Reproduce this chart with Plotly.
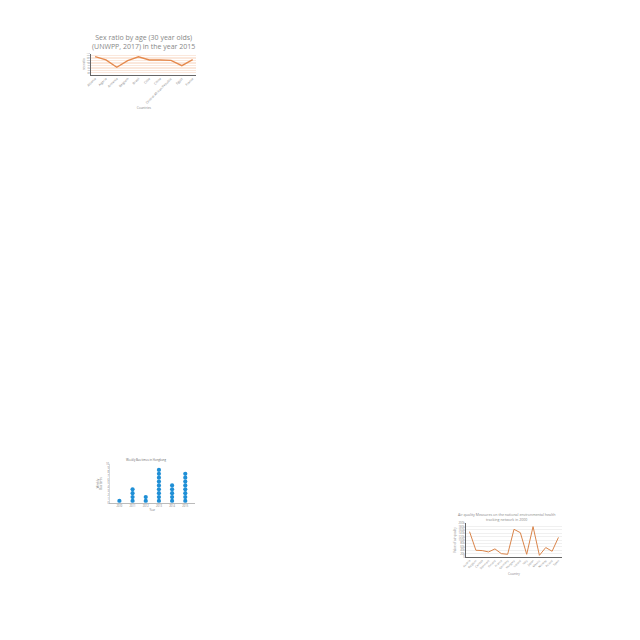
import plotly.graph_objects as go

W = H = 640

# ---- Chart 1 data ----
c1_countries = ["Albania", "Algeria", "Armenia", "Belgium", "Brazil", "Chile", "China",
                "Central African Republic", "Egypt", "France"]
c1_values = [106.4, 102.5, 93.7, 101.7, 106.2, 102.5, 102.5, 102.0, 95.7, 102.9]

# ---- Chart 2 data ----
c2_years = ["2010", "2011", "2012", "2013", "2014", "2015"]
c2_counts = [1, 4, 2, 9, 5, 8]

# ---- Chart 3 data ----
c3_countries = ["Austria", "Belgium", "Canada", "Denmark", "Finland", "France", "Germany",
                "Hungary", "Ireland", "Italy", "Japan", "Mexico", "Norway", "Poland", "Spain"]
c3_values = [150000, 40000, 38000, 30000, 48000, 20000, 16000, 164000, 144000, 16000,
             180000, 10000, 56000, 34000, 116000]

ORANGE = "#e58a4e"
BLUE = "#1f8fd6"
FONT = "Open Sans"


def px(x0, x1):
    return [x0 / W, x1 / W]


def py(y_top, y_bot):
    return [1 - y_bot / H, 1 - y_top / H]


fig = go.Figure()

# Chart 1
fig.add_trace(go.Scatter(x=list(range(len(c1_countries))), y=c1_values, mode="lines",
                         line=dict(color=ORANGE, width=1.4), xaxis="x", yaxis="y",
                         showlegend=False))
# Chart 2: stacked dots
dx, dy = [], []
for i, n in enumerate(c2_counts):
    for k in range(n):
        dx.append(i)
        dy.append(k + 0.5)
fig.add_trace(go.Scatter(x=dx, y=dy, mode="markers",
                         marker=dict(color=BLUE, size=4.2, line=dict(width=0)),
                         xaxis="x2", yaxis="y2", showlegend=False))
# Chart 3
fig.add_trace(go.Scatter(x=list(range(len(c3_countries))), y=c3_values, mode="lines",
                         line=dict(color="#d9844a", width=1), xaxis="x3", yaxis="y3",
                         showlegend=False))

fig.update_layout(
    width=W, height=H, margin=dict(l=0, r=0, t=0, b=0), autosize=False,
    paper_bgcolor="white", plot_bgcolor="white", font=dict(family=FONT),
    xaxis=dict(domain=px(87, 193), range=[-0.35, 9.35], tickmode="array",
               tickvals=list(range(len(c1_countries))), ticktext=c1_countries,
               tickangle=-45, tickfont=dict(size=3.2, color="#888", family=FONT),
               showgrid=False, zeroline=False, showline=True, linecolor="#666",
               linewidth=1, ticks="", anchor="y",
               title=dict(text="Countries", font=dict(size=3.2, color="#888"), standoff=2)),
    yaxis=dict(domain=py(52, 73), range=[85, 110], dtick=2,
               tickfont=dict(size=2, color="#888", family=FONT),
               showgrid=True, gridcolor="#fbe8dc", gridwidth=0.5, zeroline=False,
               showline=True, linecolor="#666", linewidth=1, anchor="x",
               title=dict(text="sex ratio", font=dict(size=3, color="#888"), standoff=1)),
    xaxis2=dict(domain=px(106, 191), range=[-0.7, 5.7], tickmode="array",
                tickvals=list(range(len(c2_years))), ticktext=c2_years,
                tickfont=dict(size=2.6, color="#777", family=FONT),
                showgrid=False, zeroline=False, showline=True, linecolor="#bbb",
                linewidth=1, anchor="y2",
                title=dict(text="Year", font=dict(size=2.8, color="#777"), standoff=1)),
    yaxis2=dict(domain=py(465, 504), range=[0, 10], dtick=1,
                tickfont=dict(size=2.6, color="#777", family=FONT),
                showgrid=False, zeroline=False, showline=True, linecolor="#ddd",
                linewidth=0.5, anchor="x2",
                title=dict(text="Weekly<br>Bus times", font=dict(size=2.8, color="#777"),
                           standoff=3)),
    xaxis3=dict(domain=px(465, 561), range=[-0.5, 14.5], tickmode="array",
                tickvals=list(range(len(c3_countries))), ticktext=c3_countries,
                tickangle=-45, tickfont=dict(size=2.8, color="#888", family=FONT),
                showgrid=False, zeroline=False, showline=True, linecolor="#666",
                linewidth=1, anchor="y3",
                title=dict(text="Country", font=dict(size=3.2, color="#888"), standoff=3)),
    yaxis3=dict(domain=py(524.5, 558.5), range=[0, 200000], dtick=20000,
                tickfont=dict(size=2.8, color="#888", family=FONT),
                showgrid=True, gridcolor="#f0f0f0", gridwidth=0.5, zeroline=False,
                showline=True, linecolor="#666", linewidth=1, anchor="x3",
                title=dict(text="Value of air quality", font=dict(size=3, color="#888"),
                           standoff=2)),
    annotations=[
        dict(text="Sex ratio by age (30 year olds)<br>(UNWPP, 2017) in the year 2015",
             x=140 / W, y=1 - 40.5 / H, xref="paper", yref="paper", showarrow=False,
             font=dict(size=7, color="#888", family=FONT), xanchor="center",
             yanchor="middle"),
        dict(text="Weekly Bus times in Hongkong", x=143 / W, y=1 - 461 / H,
             xref="paper", yref="paper", showarrow=False,
             font=dict(size=2.8, color="#666", family=FONT), xanchor="center",
             yanchor="middle"),
        dict(text="Air quality Measures on the national environmental health<br>tracking network in 2000",
             x=505 / W, y=1 - 518 / H, xref="paper", yref="paper", showarrow=False,
             font=dict(size=3.6, color="#888", family=FONT), xanchor="center",
             yanchor="middle"),
    ],
)

fig.write_html("out.html")
